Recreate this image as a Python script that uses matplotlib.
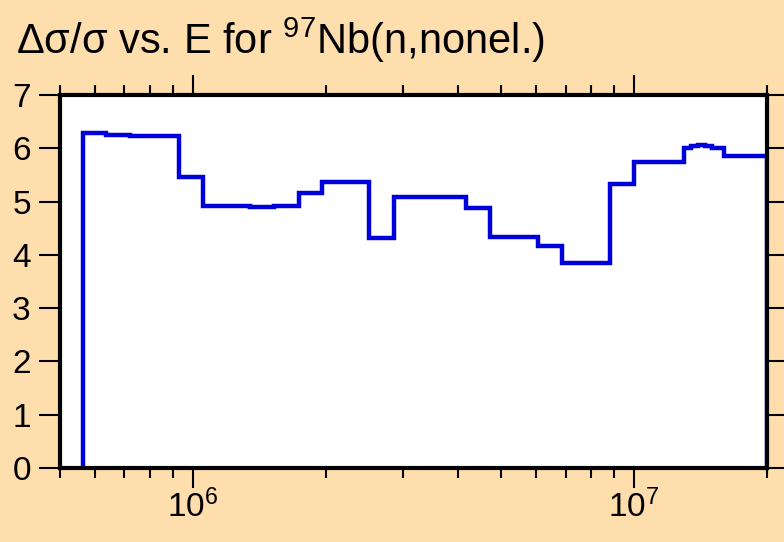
import matplotlib
matplotlib.use("Agg")
import matplotlib.pyplot as plt
from matplotlib.ticker import LogLocator, LogFormatterMathtext, NullFormatter, MultipleLocator

plt.rcParams['font.family'] = ['Liberation Sans', 'DejaVu Sans']
plt.rcParams['mathtext.default'] = 'regular'
plt.rcParams['mathtext.fontset'] = 'custom'
plt.rcParams['mathtext.rm'] = 'Liberation Sans'

# bin edges (eV) and relative uncertainty (%)
edges = [5.64e5, 6.37e5, 7.22e5, 8.19e5, 9.3e5, 1.055e6, 1.19e6, 1.35e6, 1.53e6,
         1.74e6, 1.96e6, 2.23e6, 2.51e6, 2.86e6, 3.24e6, 3.67e6, 4.16e6, 4.72e6,
         5.35e6, 6.07e6, 6.88e6, 7.82e6, 8.84e6, 1.0e7, 1.19e7, 1.30e7, 1.35e7,
         1.40e7, 1.45e7, 1.50e7, 1.60e7, 1.69e7, 2.0e7]
values = [6.28, 6.25, 6.23, 6.23, 5.47, 4.91, 4.91, 4.90, 4.91,
          5.17, 5.36, 5.36, 4.31, 5.08, 5.08, 5.08, 4.88,
          4.34, 4.34, 4.17, 3.85, 3.85, 5.33, 5.75, 5.75, 6.00,
          6.04, 6.06, 6.04, 6.00, 5.85, 5.85]

bg = '#FFDEAD'
fig = plt.figure(figsize=(7.84, 5.42), dpi=100, facecolor=bg)
ax = fig.add_axes([0.0765, 0.1365, 0.9015, 0.6882])

ax.stairs(values, edges, baseline=0, color='#0000DD', linewidth=3.2)

ax.set_xscale('log')
ax.set_xlim(5e5, 2e7)
ax.set_ylim(0, 7)

ax.xaxis.set_major_locator(LogLocator(base=10))
ax.xaxis.set_major_formatter(LogFormatterMathtext())
ax.xaxis.set_minor_locator(LogLocator(base=10, subs=range(2, 10)))
ax.xaxis.set_minor_formatter(NullFormatter())
ax.yaxis.set_major_locator(MultipleLocator(1))

for s in ax.spines.values():
    s.set_linewidth(3)

ax.tick_params(axis='x', which='major', direction='out', length=14.5, width=1.5,
               top=True, bottom=True, labelsize=24, pad=1)
ax.tick_params(axis='x', which='minor', direction='out', length=7, width=1.5,
               top=True, bottom=True)
ax.tick_params(axis='y', which='major', direction='out', length=15, width=1.5,
               left=True, right=True, labelsize=24, pad=6)

fig.text(0.021, 0.900, r'Δσ/σ vs. E for $^{97}$Nb(n,nonel.)', fontsize=30,
         ha='left', va='baseline')

fig.savefig('out.png', dpi=100, facecolor=bg)
